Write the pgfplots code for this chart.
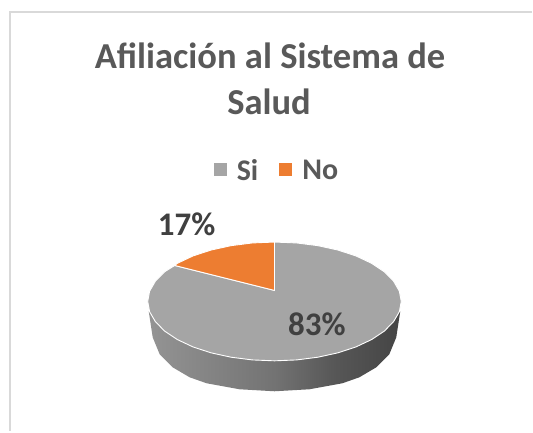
\documentclass[border=0pt]{standalone}
\usepackage{pgfplots}
\pgfplotsset{compat=1.18}
\usepackage{fontspec}
\setmainfont{Carlito}
\definecolor{txt}{HTML}{595959}
\definecolor{lab}{HTML}{404040}
\definecolor{frame}{HTML}{D9D9D9}
\definecolor{sliceA}{HTML}{A5A5A5}
\definecolor{sliceB}{HTML}{ED7D31}
\pgfdeclarehorizontalshading{wall}{100bp}{
  color(0bp)=(black!42!white); color(25bp)=(black!42!white); color(50bp)=(black!55!white);
  color(62bp)=(black!66!white); color(75bp)=(black!73!white); color(100bp)=(black!70!white)}
\begin{document}
\begin{tikzpicture}
\begin{axis}[
  scale only axis, width=533pt, height=432pt,
  xmin=0, xmax=533, ymin=0, ymax=432, y dir=reverse,
  hide axis, clip=false]
% page extent
\addplot[draw=none, fill=white] coordinates {(0,0) (533,0) (533,432) (0,432)} --cycle;
% frame
\addplot[draw=frame, line width=2pt] coordinates {(533,12) (9.6,12) (9.6,432)};
% side wall
\addplot[draw=none, shading=wall] coordinates {
 (149,312) (153,338) (160,355) (173,368) (190,378) (207,384) (240,390) (275,392)
 (310,390) (343,384) (360,378) (377,368) (390,355) (397,338) (401,312)} --cycle;
% 83%
\addplot[draw=white, line width=0.9pt, fill=sliceA] coordinates {
 (275,242.5)(297.1,243.4)(318.4,246.1)(338.5,250.5)(356.6,256.4)(372.3,263.8)(385,272.25)(394.3,281.7)(400.1,291.7)(402,302)
 (400.1,312.3)(394.3,322.3)(385,331.75)(372.3,340.2)(356.6,347.6)(338.5,353.5)(318.4,357.9)(297.1,360.6)(275,361.5)
 (252.9,360.6)(231.6,357.9)(211.5,353.5)(193.4,347.6)(177.7,340.2)(165,331.75)(155.7,322.3)(149.9,312.3)(148,302)
 (149.9,291.7)(155.7,281.7)(165,272.25)(175,266)(275,291)} --cycle;
% 17%
\addplot[draw=white, line width=0.9pt, fill=sliceB] coordinates {
 (275,291)(175,266)(177.7,263.8)(193.4,256.4)(211.5,250.5)(231.6,246.1)(252.9,243.4)(275,242.5)} --cycle;
% legend marks
\addplot[only marks, mark=square*, mark size=6pt, mark options={draw=sliceA, fill=sliceA, line width=0pt}] coordinates {(221,170)};
\addplot[only marks, mark=square*, mark size=6pt, mark options={draw=sliceB, fill=sliceB, line width=0pt}] coordinates {(286,170)};
\node[text=txt, font=\bfseries\fontsize{36.6}{40}\selectfont, anchor=center] at (axis cs:270.5,56) {Afiliación al Sistema de};
\node[text=txt, font=\bfseries\fontsize{36.6}{40}\selectfont, anchor=center] at (axis cs:269.5,102) {Salud};
\node[text=txt, font=\bfseries\fontsize{30}{32}\selectfont, anchor=center] at (axis cs:248,170) {Si};
\node[text=txt, font=\bfseries\fontsize{30}{32}\selectfont, anchor=center] at (axis cs:321,170) {No};
\node[text=lab, font=\bfseries\fontsize{33}{36}\selectfont, anchor=center] at (axis cs:187,225) {17\%};
\node[text=lab, font=\bfseries\fontsize{33}{36}\selectfont, anchor=center] at (axis cs:317.5,325) {83\%};
\end{axis}
\end{tikzpicture}
\end{document}
